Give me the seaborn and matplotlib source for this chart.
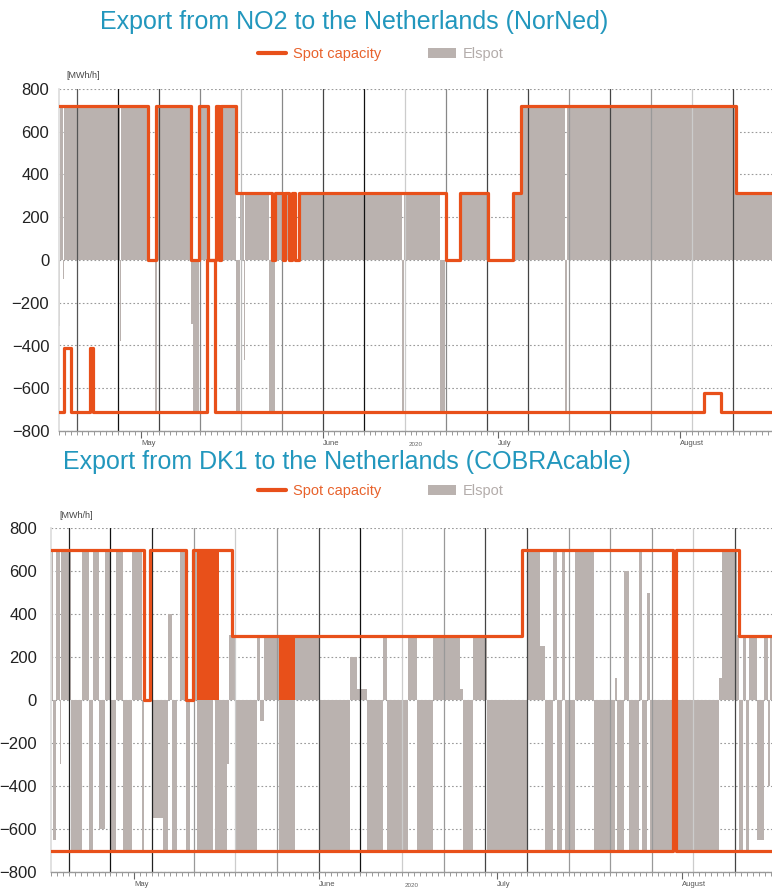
import numpy as np
import pandas as pd
import matplotlib
matplotlib.use("Agg")
import matplotlib.pyplot as plt
import matplotlib.dates as mdates
from matplotlib.lines import Line2D
from matplotlib.patches import Patch
import seaborn as sns

# all x values are days after 17 April 2020
start = pd.Timestamp("2020-04-17")

# ---- NorNed (NO2 -> NL) ----
no2_exp_days = [0, 15.20, 16.48, 22.49, 23.85, 25.49, 26.72, 27.32, 27.66, 30.22, 36.28, 36.79,
                38.19, 38.59, 39.18, 39.73, 40.29, 40.89, 66.08, 68.47, 73.25, 77.51, 78.83, 115.54]
no2_exp_cap = [722, 0, 722, 0, 722, 0, 722, 0, 722, 315, 0, 315,
               0, 315, 0, 315, 0, 315, 0, 315, 0, 315, 722, 315]
no2_imp_days = [0, 0.90, 2.00, 5.29, 5.86, 25.22, 26.63, 110.10, 113.00]
no2_imp_cap = [-712, -410, -712, -410, -712, 0, -712, -620, -712]
no2_flow_days = [0, 0.17, 0.68, 0.85, 10.41, 10.59, 15.20, 16.39, 16.65, 22.49, 22.88, 23.85,
                 25.49, 26.72, 27.32, 27.66, 30.22, 30.90, 31.50, 31.67, 35.77, 36.79, 38.19, 38.59,
                 39.18, 39.73, 40.29, 40.89, 58.56, 58.90, 65.05, 65.82, 66.08, 68.47, 73.25, 77.51,
                 78.83, 86.39, 86.73, 115.54]
no2_flow = [-310, 722, -90, 722, -380, 722, 0, -712, 722, -300, -712, 722,
            0, 722, 0, 722, -712, 315, -470, 315, -712, 315, 0, 315,
            0, 315, 0, 315, -712, 315, -712, 315, 0, 315, 0, 315,
            722, -712, 722, 315]

# ---- COBRAcable (DK1 -> NL) ----
dk1_exp_days = [0, 15.63, 16.64, 22.64, 23.82, 30.37, 79.10, 104.49, 105.09, 115.58]
dk1_exp_cap = [700, 0, 700, 0, 700, 300, 700, 0, 700, 300]
dk1_imp_days = [0, 104.49, 105.09]
dk1_imp_cap = [-700, 0, -700]
dk1_flicker_start = [24.49, 38.37]
dk1_flicker_end = [28.32, 41.01]
dk1_flicker_cap = [700, 300]
dk1_flow_days = [0, 0.34, 0.84, 1.51, 1.76, 3.36, 5.16, 6.44, 7.11, 8.12, 9.08, 10.03,
                 10.92, 12.15, 13.56, 15.24, 15.63, 16.64, 17.14, 18.82, 19.66, 20.29, 21.13, 21.68,
                 22.64, 23.36, 23.82, 24.49, 27.28, 27.56, 29.53, 29.92, 31.09, 34.62, 35.13, 35.80,
                 38.37, 41.01, 45.21, 50.25, 51.43, 53.06, 55.80, 56.42, 60.05, 61.46, 64.25, 68.74,
                 69.29, 70.97, 73.23, 79.95, 82.18, 83.03, 84.37, 84.99, 85.88, 86.39, 88.07, 91.21,
                 94.84, 95.13, 96.25, 97.09, 98.77, 99.33, 100.17, 100.72, 104.49, 105.09, 112.22, 112.77,
                 115.29, 115.58, 116.30, 116.81, 117.31, 118.66, 119.83, 120.50, 120.84]
dk1_flow = [700, -650, 700, -300, 700, -700, 700, -700, 700, -600, 700, -700,
            700, -700, 700, -700, 0, 500, -550, -700, 400, -700, 0, 700,
            -700, 0, 700, -700, 0, -700, -300, 300, -700, 300, -100, 300,
            -700, 300, -700, 200, 50, -700, 300, -700, 300, -700, 300, 50,
            -700, 300, -700, 700, 250, -700, 700, -700, 700, -700, 700, -700,
            100, -700, 600, -700, 700, -700, 500, -700, 0, -700, 100, 700,
            300, -700, 300, -700, 300, -650, 300, -400, 300]

ORANGE = "#e8501a"
GRAY = "#bab2af"
TITLE = "#2297bd"

top_shades = ["#555", "#111", "#444", "#888", "#bbb", "#888", "#444", "#111", "#ccc",
              "#888", "#444", "#444", "#999", "#444", "#999", "#ccc", "#444"]
bot_shades = ["#222", "#111", "#222", "#999", "#ccc", "#999", "#444", "#111", "#ccc",
              "#999", "#444", "#444", "#999", "#999", "#999", "#ccc", "#444"]

sns.set_theme(style="white")
plt.rcParams["font.family"] = ["Liberation Sans", "DejaVu Sans"]


def to_dates(days):
    return start + pd.to_timedelta(np.asarray(days, dtype=float), unit="D")


def steps(days, vals, xmax):
    return to_dates(list(days) + [xmax]), list(vals) + [vals[-1]]


def draw_panel(ax, exp_d, exp_v, imp_d, imp_v, fl_d, fl_v, xmax, shades, pad):
    t, v = steps(fl_d, fl_v, xmax)
    ax.fill_between(t, v, 0, step="post", color=GRAY, lw=0, zorder=1)
    for d, c in zip(pd.date_range("2020-04-20", periods=len(shades), freq="7D"), shades):
        ax.axvline(d, color=c, lw=0.9, zorder=2)
    for dd, vv in ((exp_d, exp_v), (imp_d, imp_v)):
        t, v = steps(dd, vv, xmax)
        sns.lineplot(x=t, y=v, drawstyle="steps-post", color=ORANGE, lw=2.3,
                     estimator=None, sort=False, ax=ax, zorder=3)
    ax.set_xlim(start, start + pd.Timedelta(days=xmax))
    ax.set_ylim(-800, 800)
    ax.set_yticks(range(-800, 801, 200))
    ax.yaxis.grid(True, linestyle=(0, (1.5, 2)), color="#9a9a9a", lw=0.8)
    ax.set_axisbelow(True)
    ax.tick_params(axis="y", labelsize=12, colors="#222", length=0, pad=pad)
    ax.xaxis.set_major_locator(mdates.MonthLocator())
    ax.xaxis.set_major_formatter(mdates.DateFormatter("%B"))
    ax.xaxis.set_minor_locator(mdates.DayLocator())
    ax.tick_params(axis="x", which="major", labelsize=5.5, colors="#666", length=5,
                   width=0.8, pad=1.5, bottom=True)
    ax.tick_params(axis="x", which="minor", length=3, width=0.6, color="#888", bottom=True)
    for lab in ax.get_xticklabels():
        lab.set_horizontalalignment("left")
        lab.set_color("#555")
    ax.set_xlabel("2020", fontsize=4.5, color="#666", labelpad=-3.5)
    ax.set_ylabel("")
    for s in ("top", "right"):
        ax.spines[s].set_visible(False)
    ax.spines["left"].set_color("#dddddd")
    ax.spines["bottom"].set_color("#999999")
    ax.spines["bottom"].set_linewidth(1.0)


fig = plt.figure(figsize=(7.72, 8.88), dpi=100)
ax1 = fig.add_axes([59 / 772, 1 - 431 / 888, 1 - 59 / 772, 342 / 888])
ax2 = fig.add_axes([51 / 772, 1 - 872 / 888, 1 - 51 / 772, 344 / 888])

draw_panel(ax1, no2_exp_days, no2_exp_cap, no2_imp_days, no2_imp_cap,
           no2_flow_days, no2_flow, 121.7, top_shades, 7)
draw_panel(ax2, dk1_exp_days, dk1_exp_cap, dk1_imp_days, dk1_imp_cap,
           dk1_flow_days, dk1_flow, 121.2, bot_shades, 10)
for s, e, c in zip(dk1_flicker_start, dk1_flicker_end, dk1_flicker_cap):
    ax2.fill_between(to_dates([s, e]), 0, c, color=ORANGE, lw=0, zorder=3)

fig.text(354 / 772, 1 - 22 / 888, "Export from NO2 to the Netherlands (NorNed)",
         ha="center", va="center", fontsize=18, color=TITLE)
fig.text(347 / 772, 1 - 462 / 888, "Export from DK1 to the Netherlands (COBRAcable)",
         ha="center", va="center", fontsize=18, color=TITLE)
fig.text(66 / 772, 1 - 76 / 888, "[MWh/h]", fontsize=6.5, color="#444", va="center")
fig.text(59 / 772, 1 - 515 / 888, "[MWh/h]", fontsize=6.5, color="#444", va="center")

handles = [Line2D([], [], color=ORANGE, lw=3), Patch(facecolor=GRAY, edgecolor="none")]
for y in (54, 491):
    leg = fig.legend(handles, ["Spot capacity", "Elspot"], loc="center",
                     bbox_to_anchor=(381 / 772, 1 - y / 888), ncol=2, frameon=False,
                     fontsize=10.5, handlelength=1.9, handletextpad=0.5, columnspacing=3.2)
    leg.get_texts()[0].set_color("#e8622c")
    leg.get_texts()[1].set_color("#b3acaa")

fig.savefig("out.png", dpi=100)
